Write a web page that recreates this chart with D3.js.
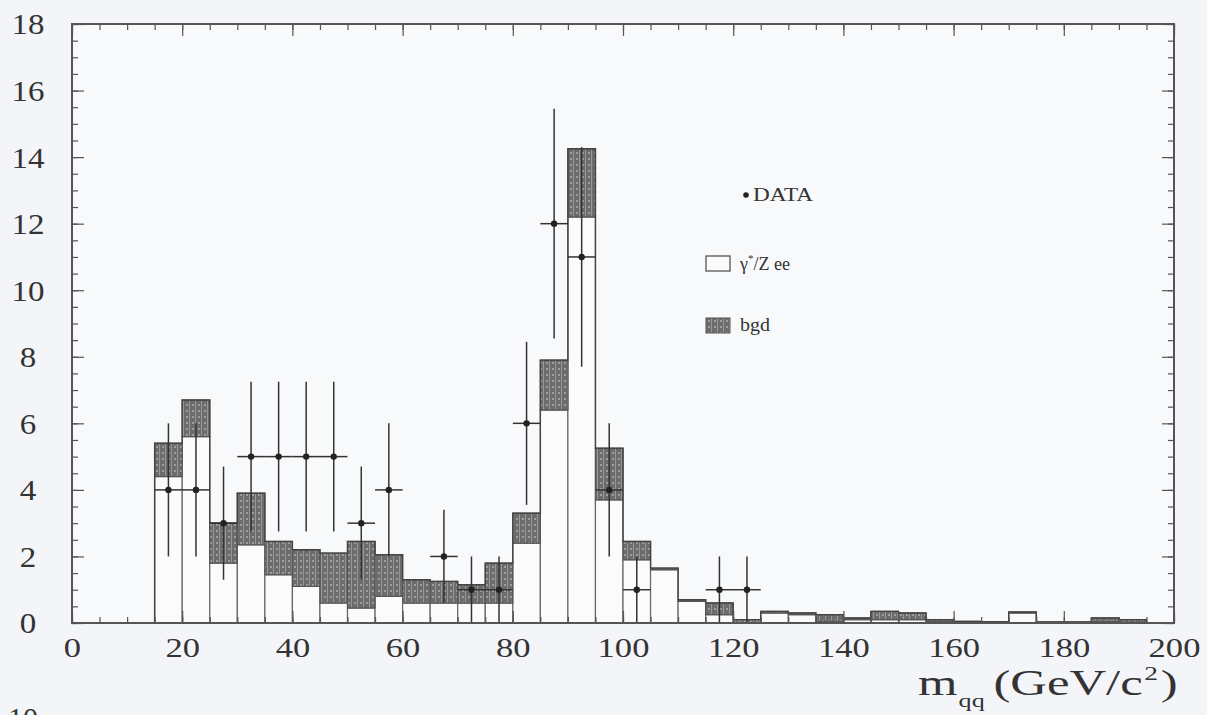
<!DOCTYPE html>
<html>
<head>
<meta charset="utf-8">
<script src="https://cdn.jsdelivr.net/npm/d3@7"></script>
<style>
  html, body { margin: 0; padding: 0; background: #f3f5f8; }
  svg { display: block; }
  text { font-family: "Liberation Serif", "DejaVu Serif", serif; fill: #333; }
</style>
</head>
<body>
<svg id="chart" width="1207" height="715"></svg>
<script>
// bins (lower edge, GeV), 5 GeV wide
const binLo = [15, 20, 25, 30, 35, 40, 45, 50, 55, 60, 65, 70, 75, 80, 85, 90, 95, 100,
               105, 110, 115, 120, 125, 130, 135, 140, 145, 150, 155, 160, 165, 170, 175, 180, 185, 190];
// gamma*/Z ee level (bottom of bgd band)
const signal = [4.4, 5.6, 1.8, 2.35, 1.45, 1.1, 0.6, 0.45, 0.8, 0.6, 0.6, 0.6, 0.6, 2.4, 6.4, 12.2, 3.7, 1.9,
                1.6, 0.65, 0.25, 0.0, 0.3, 0.25, 0.05, 0.1, 0.1, 0.1, 0.05, 0.02, 0.02, 0.3, 0.02, 0.02, 0.05, 0.03];
// total (top of bgd band)
const total  = [5.4, 6.7, 3.0, 3.9, 2.45, 2.2, 2.1, 2.45, 2.05, 1.3, 1.25, 1.15, 1.8, 3.3, 7.9, 14.25, 5.25, 2.45,
                1.65, 0.7, 0.6, 0.1, 0.35, 0.3, 0.25, 0.15, 0.35, 0.3, 0.1, 0.05, 0.04, 0.33, 0.03, 0.03, 0.15, 0.1];

// data points
const dataX   = [17.5, 22.5, 27.5, 32.5, 37.5, 42.5, 47.5, 52.5, 57.5, 67.5, 72.5, 77.5, 82.5, 87.5, 92.5, 97.5, 102.5, 117.5, 122.5];
const dataY   = [4, 4, 3, 5, 5, 5, 5, 3, 4, 2, 1, 1, 6, 12, 11, 4, 1, 1, 1];
const dataErr = [2, 2, 1.7, 2.25, 2.25, 2.25, 2.25, 1.7, 2, 1.4, 1, 1, 2.45, 3.45, 3.3, 2, 1, 1, 1];

const xTicks = [0, 20, 40, 60, 80, 100, 120, 140, 160, 180, 200];
const yTicks = [0, 2, 4, 6, 8, 10, 12, 14, 16, 18];
const binW = 5;

const svg = d3.select("#chart");
const frame = { left: 72, right: 1174, top: 24, bottom: 623 };

const x = d3.scaleLinear().domain([0, 200]).range([frame.left, frame.right]);
const y = d3.scaleLinear().domain([0, 18]).range([frame.bottom, frame.top]);

// dotted/striped pattern for bgd
const defs = svg.append("defs");
const pat = defs.append("pattern")
  .attr("id", "bgd")
  .attr("patternUnits", "userSpaceOnUse")
  .attr("width", 6).attr("height", 6);
pat.append("rect").attr("width", 6).attr("height", 6).attr("fill", "#6c6c6c");
pat.append("line").attr("x1", 3.5).attr("x2", 3.5).attr("y1", 0).attr("y2", 6)
  .attr("stroke", "#989898").attr("stroke-width", 1);
pat.append("circle").attr("cx", 1).attr("cy", 3).attr("r", 0.9).attr("fill", "#b5b5b5");

// plot area
svg.append("rect")
  .attr("x", frame.left).attr("y", frame.top)
  .attr("width", frame.right - frame.left).attr("height", frame.bottom - frame.top)
  .attr("fill", "#f8f9fb");

const bins = binLo.map((lo, i) => ({ lo, sig: signal[i], tot: total[i] }));

// gamma*/Z ee bars
svg.append("g").selectAll("rect")
  .data(bins)
  .join("rect")
    .attr("x", d => x(d.lo))
    .attr("y", d => y(d.sig))
    .attr("width", d => x(d.lo + binW) - x(d.lo))
    .attr("height", d => y(0) - y(d.sig))
    .attr("fill", "#fbfbfc")
    .attr("stroke", "#666")
    .attr("stroke-width", 1.2);

// bgd band
svg.append("g").selectAll("rect")
  .data(bins)
  .join("rect")
    .attr("x", d => x(d.lo))
    .attr("y", d => y(d.tot))
    .attr("width", d => x(d.lo + binW) - x(d.lo))
    .attr("height", d => y(d.sig) - y(d.tot))
    .attr("fill", "url(#bgd)")
    .attr("stroke", "#555")
    .attr("stroke-width", 1.2);

// outline of total
const step = [];
bins.forEach(d => { step.push([d.lo, d.tot]); step.push([d.lo + binW, d.tot]); });
step.unshift([bins[0].lo, 0]);
step.push([bins[bins.length - 1].lo + binW, 0]);
svg.append("path")
  .attr("d", d3.line().x(d => x(d[0])).y(d => y(d[1]))(step))
  .attr("fill", "none")
  .attr("stroke", "#444")
  .attr("stroke-width", 1.4);

// data points with error bars
const pts = dataX.map((v, i) => ({ x: v, y: dataY[i], e: dataErr[i] }));
const pg = svg.append("g").selectAll("g").data(pts).join("g");
pg.append("line")
  .attr("x1", d => x(d.x)).attr("x2", d => x(d.x))
  .attr("y1", d => y(d.y - d.e)).attr("y2", d => y(d.y + d.e))
  .attr("stroke", "#333").attr("stroke-width", 1.5);
pg.append("line")
  .attr("x1", d => x(d.x - binW / 2)).attr("x2", d => x(d.x + binW / 2))
  .attr("y1", d => y(d.y)).attr("y2", d => y(d.y))
  .attr("stroke", "#333").attr("stroke-width", 1.5);
pg.append("circle")
  .attr("cx", d => x(d.x)).attr("cy", d => y(d.y))
  .attr("r", 3.2).attr("fill", "#222");

// axes: ticks point inward
function minorX(ax) { return ax.tickValues(d3.range(0, 201, 5)).tickFormat("").tickSizeOuter(0); }
function minorY(ax) { return ax.tickValues(d3.range(0, 18.01, 0.5)).tickFormat("").tickSizeOuter(0); }

svg.append("g").attr("transform", `translate(0,${frame.bottom})`)
  .call(minorX(d3.axisBottom(x)).tickSizeInner(-6));
svg.append("g").attr("class", "xlab").attr("transform", `translate(0,${frame.bottom})`)
  .call(d3.axisBottom(x).tickValues(xTicks).tickSizeInner(-12).tickSizeOuter(0))
  .call(g => g.selectAll("text")
    .attr("y", 0).attr("dy", 0)
    .attr("transform", "translate(0,34) scale(1.28,1)")
    .attr("font-size", 27));
svg.append("g").attr("transform", `translate(0,${frame.top})`)
  .call(minorX(d3.axisTop(x)).tickSizeInner(-6));
svg.append("g").attr("transform", `translate(0,${frame.top})`)
  .call(d3.axisTop(x).tickValues(xTicks).tickFormat("").tickSizeInner(-12).tickSizeOuter(0));

svg.append("g").attr("transform", `translate(${frame.left},0)`)
  .call(minorY(d3.axisLeft(y)).tickSizeInner(-6));
svg.append("g").attr("class", "ylab").attr("transform", `translate(${frame.left},0)`)
  .call(d3.axisLeft(y).tickValues(yTicks).tickSizeInner(-12).tickSizeOuter(0))
  .call(g => g.selectAll("text")
    .attr("x", 0).attr("dy", "0.33em")
    .attr("text-anchor", "middle")
    .attr("transform", "translate(-44,0) scale(1.1,1)")
    .attr("font-size", 30));
svg.append("g").attr("transform", `translate(${frame.right},0)`)
  .call(minorY(d3.axisRight(y)).tickSizeInner(-6));
svg.append("g").attr("transform", `translate(${frame.right},0)`)
  .call(d3.axisRight(y).tickValues(yTicks).tickFormat("").tickSizeInner(-12).tickSizeOuter(0));

svg.selectAll(".domain").remove();
svg.selectAll(".tick line").attr("stroke", "#555").attr("stroke-width", 1.2);
svg.selectAll(".xlab, .ylab").attr("font-family", "Liberation Serif");
svg.selectAll(".tick text").attr("fill", "#333").attr("font-family", "Liberation Serif")
  .style("font-family", "Liberation Serif");

// frame
svg.append("rect")
  .attr("x", frame.left).attr("y", frame.top)
  .attr("width", frame.right - frame.left).attr("height", frame.bottom - frame.top)
  .attr("fill", "none").attr("stroke", "#555").attr("stroke-width", 2);

// x title (scan is stretched horizontally)
const tg = svg.append("g").attr("transform", "translate(918,695) scale(1.45,1)");
tg.append("text").attr("x", 0).attr("y", 0).attr("font-size", 35).text("m");
tg.append("text").attr("x", 28).attr("y", 12).attr("font-size", 18).text("qq");
const unit = tg.append("text").attr("x", 52).attr("y", 0).attr("font-size", 35);
unit.append("tspan").text("(GeV/c");
unit.append("tspan").attr("font-size", 19).attr("dx", 1).attr("dy", -15).text("2");
unit.append("tspan").attr("dx", 2).attr("dy", 15).text(")");

// legend
const lg = svg.append("g");
lg.append("circle").attr("cx", 746).attr("cy", 195).attr("r", 2.8).attr("fill", "#222");
lg.append("text").attr("x", 753).attr("y", 201).attr("font-size", 18)
  .attr("textLength", 60).attr("lengthAdjust", "spacingAndGlyphs").text("DATA");

lg.append("rect").attr("x", 706).attr("y", 256).attr("width", 24).attr("height", 15)
  .attr("fill", "#fbfbfc").attr("stroke", "#555").attr("stroke-width", 1.3);
const sigLabel = lg.append("text").attr("x", 740).attr("y", 270).attr("font-size", 18);
sigLabel.append("tspan").text("γ");
sigLabel.append("tspan").attr("font-size", 11).attr("dy", -8).text("*");
sigLabel.append("tspan").attr("dy", 8).text("/Z ee");

lg.append("rect").attr("x", 706).attr("y", 318).attr("width", 24).attr("height", 15)
  .attr("fill", "url(#bgd)").attr("stroke", "#555").attr("stroke-width", 1);
lg.append("text").attr("x", 740).attr("y", 331).attr("font-size", 18)
  .attr("textLength", 30).attr("lengthAdjust", "spacingAndGlyphs").text("bgd");

// edge of the next figure's label, cut by the page
svg.append("text").attr("x", 8).attr("y", 728).attr("font-size", 30).attr("fill", "#999").text("10");
</script>
</body>
</html>
